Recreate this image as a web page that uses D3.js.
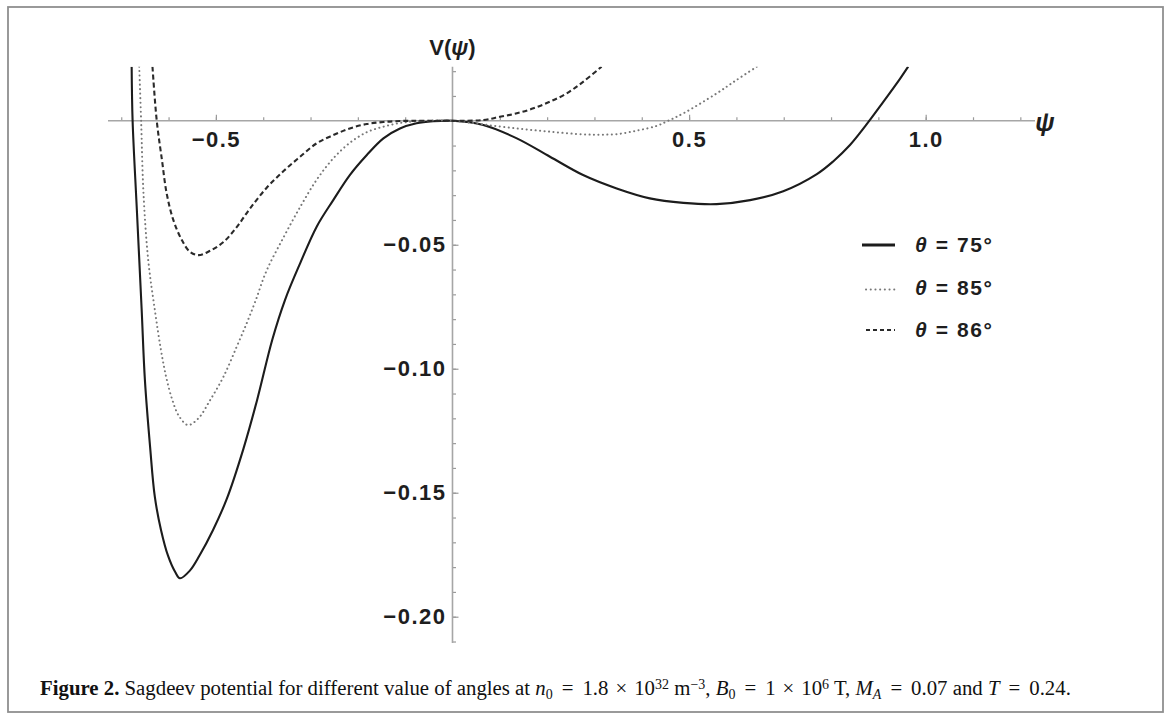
<!DOCTYPE html>
<html lang="en">
<head>
<meta charset="UTF-8">
<title>Sagdeev potential</title>
<script src="https://d3js.org/d3.v7.min.js"></script>
<style>
  body { margin: 0; background: #fff; }
  svg { display: block; }
  .tick text { font-family: "Liberation Sans", Arial, sans-serif; font-weight: bold; font-size: 22px; fill: #1e1e1e; letter-spacing: 1.5px; }
  .tick line { stroke: #9a9a9a; stroke-width: 1.2; }
  .ax { stroke: #a6a6a6; stroke-width: 1.6; }
  .lab { font-family: "Liberation Sans", Arial, sans-serif; font-weight: bold; fill: #1e1e1e; }
  .cap { font-family: "Liberation Serif", "Times New Roman", serif; font-size: 20.8px; fill: #111; }
</style>
</head>
<body>
<div id="chart"></div>
<script>
// curves: psi and V(psi)
const psi75 = [-0.678, -0.676, -0.667, -0.657, -0.650, -0.639, -0.629, -0.616, -0.601, -0.586, -0.576, -0.555, -0.534, -0.506, -0.477, -0.442, -0.413, -0.381, -0.354, -0.322, -0.287, -0.252, -0.217, -0.181, -0.146, -0.111, -0.076, -0.041, 0,
               0.065, 0.136, 0.206, 0.276, 0.347, 0.417, 0.488, 0.558, 0.629, 0.699, 0.770, 0.805, 0.840, 0.875, 0.910, 0.946, 0.963];
const v75 = [0.0218, 0, -0.0360, -0.0756, -0.1046, -0.1316, -0.1517, -0.1650, -0.1755, -0.1820, -0.1845, -0.1814, -0.1751, -0.1650, -0.1525, -0.1324, -0.1127, -0.0884, -0.0723, -0.0575, -0.0427, -0.0320, -0.0219, -0.0138, -0.0071, -0.0031, -0.0010, -0.0002, 0,
             -0.0017, -0.0071, -0.0145, -0.0219, -0.0273, -0.0313, -0.0331, -0.0336, -0.0320, -0.0284, -0.0215, -0.0163, -0.0098, -0.0015, 0.0075, 0.0170, 0.0218];

const psi85 = [-0.662, -0.658, -0.653, -0.643, -0.629, -0.616, -0.605, -0.592, -0.578, -0.559, -0.537, -0.512, -0.484, -0.456, -0.435, -0.417, -0.393, -0.357, -0.322, -0.287, -0.252, -0.217, -0.181, -0.146, -0.111, -0.076, 0,
               0.065, 0.136, 0.206, 0.276, 0.312, 0.347, 0.389, 0.431, 0.456, 0.488, 0.558, 0.600, 0.643];
const v85 = [0.0218, 0, -0.0293, -0.0562, -0.0763, -0.0925, -0.1034, -0.1126, -0.1191, -0.1227, -0.1200, -0.1126, -0.1032, -0.0911, -0.0817, -0.0730, -0.0605, -0.0470, -0.0348, -0.0238, -0.0152, -0.0089, -0.0046, -0.0024, -0.0009, -0.0002, 0,
             -0.0015, -0.0031, -0.0044, -0.0055, -0.0056, -0.0054, -0.0040, -0.0021, 0, 0.0030, 0.0110, 0.0164, 0.0218];

const psi86 = [-0.634, -0.625, -0.614, -0.604, -0.590, -0.572, -0.555, -0.537, -0.512, -0.484, -0.456, -0.428, -0.393, -0.357, -0.322, -0.287, -0.252, -0.217, -0.181, -0.146, -0.111, 0,
               0.065, 0.100, 0.136, 0.171, 0.206, 0.241, 0.276, 0.315];
const v86 = [0.0218, 0, -0.0158, -0.0293, -0.0400, -0.0481, -0.0528, -0.0542, -0.0524, -0.0489, -0.0429, -0.0354, -0.0271, -0.0203, -0.0145, -0.0091, -0.0058, -0.0031, -0.0013, -0.0005, -0.0001, 0,
             0.0003, 0.0016, 0.0030, 0.0050, 0.0077, 0.0110, 0.0157, 0.0218];

const seriesNames = ["θ = 75°", "θ = 85°", "θ = 86°"];
const xMajorTicks = [-0.5, 0.5, 1.0];
const yMajorTicks = [-0.05, -0.10, -0.15, -0.20];

const W = 1171, H = 719;
const svg = d3.select("#chart").append("svg").attr("width", W).attr("height", H);

// frame
svg.append("rect").attr("x", 8).attr("y", 7).attr("width", 1155).attr("height", 705)
  .attr("fill", "none").attr("stroke", "#8f8f8f").attr("stroke-width", 1.8);

const x = d3.scaleLinear().domain([-0.728, 1.231]).range([108, 1035]);
const y = d3.scaleLinear().domain([-0.2106, 0.0218]).range([643, 66.7]);

const x0 = x(0), y0 = y(0);

// minor ticks
const xMinor = d3.range(-7, 13).map(d => d / 10).filter(d => d !== 0);
const yMinor = d3.range(-21, 3).map(d => d / 100).filter(d => d !== 0);

svg.append("g").attr("transform", `translate(0,${y0})`)
  .call(d3.axisBottom(x).tickValues(xMinor).tickSizeInner(-3.5).tickSizeOuter(0).tickFormat(""))
  .call(g => g.select(".domain").remove());
svg.append("g").attr("transform", `translate(0,${y0})`)
  .call(d3.axisBottom(x).tickValues(xMajorTicks).tickSizeInner(-6).tickSizeOuter(0).tickPadding(11).tickFormat(d3.format(".1f")))
  .call(g => g.select(".domain").remove());

svg.append("g").attr("transform", `translate(${x0},0)`)
  .call(d3.axisLeft(y).tickValues(yMinor).tickSizeInner(-3.5).tickSizeOuter(0).tickFormat(""))
  .call(g => g.select(".domain").remove());
svg.append("g").attr("transform", `translate(${x0},0)`)
  .call(d3.axisLeft(y).tickValues(yMajorTicks).tickSizeInner(-6).tickSizeOuter(0).tickPadding(6).tickFormat(d3.format(".2f")))
  .call(g => g.select(".domain").remove());

// axis lines
svg.append("line").attr("class", "ax").attr("x1", x.range()[0]).attr("x2", x.range()[1]).attr("y1", y0).attr("y2", y0);
svg.append("line").attr("class", "ax").attr("x1", x0).attr("x2", x0).attr("y1", y.range()[1]).attr("y2", y.range()[0]);

// axis titles
const vt = svg.append("text").attr("class", "lab").attr("x", x0).attr("y", 55).attr("text-anchor", "middle").attr("font-size", 22);
vt.append("tspan").text("V(");
vt.append("tspan").attr("font-style", "italic").text("ψ");
vt.append("tspan").text(")");
svg.append("text").attr("class", "lab").attr("x", 1045).attr("y", 131).attr("text-anchor", "middle")
  .attr("font-size", 25).attr("font-style", "italic").text("ψ");

// curves
svg.append("clipPath").attr("id", "plot").append("rect")
  .attr("x", x.range()[0]).attr("y", y.range()[1]).attr("width", x.range()[1] - x.range()[0]).attr("height", y.range()[0] - y.range()[1]);

const styles = [
  { stroke: "#1c1c1c", width: 2.1, dash: null, cap: "butt" },
  { stroke: "#777", width: 2, dash: "0.1,4.4", cap: "round" },
  { stroke: "#2a2a2a", width: 2.1, dash: "5,3", cap: "butt" }
];
const series = [
  psi75.map((p, i) => [p, v75[i]]),
  psi85.map((p, i) => [p, v85[i]]),
  psi86.map((p, i) => [p, v86[i]])
];
const line = d3.line().x(d => x(d[0])).y(d => y(d[1])).curve(d3.curveCatmullRom.alpha(0.5));

series.forEach((s, i) => {
  svg.append("path").attr("d", line(s)).attr("fill", "none").attr("clip-path", "url(#plot)")
    .attr("stroke", styles[i].stroke).attr("stroke-width", styles[i].width)
    .attr("stroke-dasharray", styles[i].dash).attr("stroke-linecap", styles[i].cap);
});

// legend
const leg = svg.append("g").attr("transform", "translate(862,244)");
seriesNames.forEach((name, i) => {
  const g = leg.append("g").attr("transform", `translate(0,${i * 42.5})`);
  g.append("line").attr("x1", i === 0 ? 0 : 4).attr("x2", 33).attr("y1", i === 1 ? 3 : 1).attr("y2", i === 1 ? 3 : 1)
    .attr("stroke", styles[i].stroke).attr("stroke-width", i === 0 ? 3 : styles[i].width)
    .attr("stroke-dasharray", i === 1 ? "0.1,4.6" : (i === 2 ? "4,3" : null)).attr("stroke-linecap", styles[i].cap);
  const t = g.append("text").attr("class", "lab").attr("x", 53).attr("y", 8).attr("font-size", 21).attr("letter-spacing", 1.6);
  t.append("tspan").attr("font-style", "italic").text(name.slice(0, 1));
  t.append("tspan").text(name.slice(1));
});

// caption
const sub = { "baseline-shift": "-25%", "font-size": "14px" };
const sup = { "baseline-shift": "40%", "font-size": "14px" };
const cap = svg.append("text").attr("class", "cap").attr("x", 40).attr("y", 695);
const parts = [
  ["Figure 2.", { "font-weight": "bold" }],
  [" Sagdeev potential for different value of angles at "],
  ["n", { "font-style": "italic" }], ["0", sub],
  ["=", { dx: 9 }], ["1.8", { dx: 9 }], ["×", { dx: 7 }], ["10", { dx: 7 }], ["32", sup],
  [" m"], ["−3", sup], [", "],
  ["B", { "font-style": "italic" }], ["0", sub],
  ["=", { dx: 9 }], ["1", { dx: 9 }], ["×", { dx: 7 }], ["10", { dx: 7 }], ["6", sup],
  [" T, "], ["M", { "font-style": "italic" }], ["A", Object.assign({ "font-style": "italic" }, sub)],
  ["=", { dx: 9 }], ["0.07 and ", { dx: 9 }], ["T", { "font-style": "italic" }],
  ["=", { dx: 9 }], ["0.24.", { dx: 9 }]
];
parts.forEach(([txt, attrs]) => {
  const ts = cap.append("tspan").text(txt);
  if (attrs) Object.entries(attrs).forEach(([k, v]) => ts.attr(k, v));
});
</script>
</body>
</html>
